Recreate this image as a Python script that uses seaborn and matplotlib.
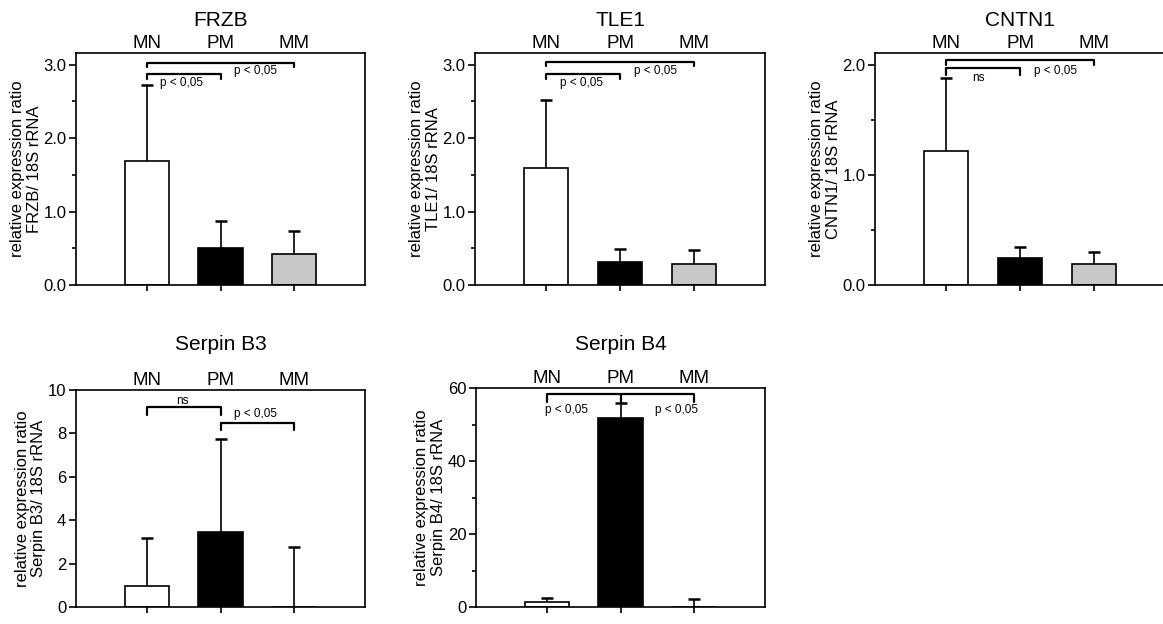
import numpy as np
import pandas as pd
import matplotlib
matplotlib.use("Agg")
import matplotlib.pyplot as plt
import seaborn as sns
from matplotlib.ticker import MultipleLocator, FormatStrFormatter, NullLocator

# ----------------------------------------------------------
# data
# ----------------------------------------------------------
groups = ["MN", "PM", "MM"]
bar_colors = ["white", "black", "#c8c8c8"]

frzb_mean = [1.69, 0.50, 0.42]
frzb_sd = [1.04, 0.37, 0.31]

tle1_mean = [1.60, 0.31, 0.28]
tle1_sd = [0.92, 0.18, 0.19]

cntn1_mean = [1.22, 0.25, 0.19]
cntn1_sd = [0.66, 0.10, 0.11]

serpinb3_mean = [0.98, 3.47, 0.0]
serpinb3_sd = [2.19, 4.27, 2.75]

serpinb4_mean = [1.4, 51.7, 0.0]
serpinb4_sd = [1.0, 4.2, 2.1]

sns.set_style("ticks")
plt.rcParams["font.family"] = ["Liberation Sans", "DejaVu Sans"]
plt.rcParams["text.color"] = "black"
plt.rcParams["axes.labelcolor"] = "black"
plt.rcParams["xtick.color"] = "black"
plt.rcParams["ytick.color"] = "black"

W, H = 1163, 624
fig = plt.figure(figsize=(W / 100, H / 100), dpi=100)


def px_rect(left, right, top, bottom):
    return [left / W, 1 - bottom / H, (right - left) / W, (bottom - top) / H]


# bracket: (x_from, x_to, y_bar, y_leg, middle legs)
# label:   (x, y, text)
panels = [
    dict(title="FRZB", gene="FRZB", mean=frzb_mean, sd=frzb_sd,
         ymax=3.16, major=1.0, minor=0.5, fmt="%.1f",
         rect=px_rect(76, 365, 53, 285), title_off=33,
         brackets=[(0, 2, 3.03, 2.97, []), (0, 1, 2.88, 2.80, [])],
         labels=[(0.47, 2.75, "p < 0,05"), (1.48, 2.92, "p < 0,05")]),
    dict(title="TLE1", gene="TLE1", mean=tle1_mean, sd=tle1_sd,
         ymax=3.16, major=1.0, minor=0.5, fmt="%.1f",
         rect=px_rect(475, 765, 53, 285), title_off=33,
         brackets=[(0, 2, 3.04, 2.98, []), (0, 1, 2.88, 2.80, [])],
         labels=[(0.48, 2.75, "p < 0,05"), (1.48, 2.92, "p < 0,05")]),
    dict(title="CNTN1", gene="CNTN1", mean=cntn1_mean, sd=cntn1_sd,
         ymax=2.11, major=1.0, minor=0.5, fmt="%.1f",
         rect=px_rect(875, 1165, 53, 285), title_off=33,
         brackets=[(0, 2, 2.045, 2.0, []), (0, 1, 1.97, 1.91, [])],
         labels=[(0.44, 1.88, "ns"), (1.48, 1.95, "p < 0,05")]),
    dict(title="Serpin B3", gene="Serpin B3", mean=serpinb3_mean, sd=serpinb3_sd,
         ymax=10, major=2, minor=None, fmt="%d",
         rect=px_rect(76, 365, 390, 607), title_off=46,
         brackets=[(0, 1, 9.2, 8.85, []), (1, 2, 8.46, 8.15, [])],
         labels=[(0.48, 9.5, "ns"), (1.48, 8.88, "p < 0,05")]),
    dict(title="Serpin B4", gene="Serpin B4", mean=serpinb4_mean, sd=serpinb4_sd,
         ymax=60, major=20, minor=10, fmt="%d",
         rect=px_rect(476, 765, 388, 607), title_off=44,
         brackets=[(0, 2, 58.4, 56.2, [1])],
         labels=[(0.27, 54.0, "p < 0,05"), (1.77, 54.0, "p < 0,05")]),
]

for p in panels:
    ax = fig.add_axes(p["rect"])
    df = pd.DataFrame({"group": groups, "value": p["mean"]})
    sns.barplot(data=df, x="group", y="value", hue="group", order=groups,
                palette=bar_colors, width=0.6, edgecolor="black",
                linewidth=1.2, errorbar=None, legend=False, ax=ax)
    x = np.arange(len(groups))
    eb = ax.errorbar(x, p["mean"], yerr=[np.zeros(len(groups)), p["sd"]],
                     fmt="none", ecolor="black", elinewidth=1.2, capsize=4,
                     capthick=1.8, zorder=3)
    eb[1][0].set_visible(False)  # one-sided (upper) error bars only

    # significance brackets
    for x1, x2, yb, yl, mids in p["brackets"]:
        ax.plot([x1, x1, x2, x2], [yl, yb, yb, yl], color="black", lw=1.6,
                clip_on=False, zorder=4)
        for xm in mids:
            ax.plot([xm, xm], [yb, yl], color="black", lw=1.6, zorder=4)
    for lx, ly, txt in p["labels"]:
        ax.text(lx, ly, txt, ha="center", va="center", fontsize=8.5)

    ax.set_xlim(-0.97, 2.97)
    ax.set_ylim(0, p["ymax"])
    ax.set_xticks(x)
    ax.set_xticklabels(groups)
    ax.set_xlabel("")
    ax.tick_params(axis="x", bottom=True, top=False, labelbottom=False,
                   labeltop=True, length=4, width=1.2, pad=-3.5, labelsize=13.5)
    ax.yaxis.set_major_locator(MultipleLocator(p["major"]))
    if p["minor"]:
        ax.yaxis.set_minor_locator(MultipleLocator(p["minor"]))
    else:
        ax.yaxis.set_minor_locator(NullLocator())
    ax.yaxis.set_major_formatter(FormatStrFormatter(p["fmt"]))
    ax.tick_params(axis="y", which="major", length=5, width=1.2, labelsize=12, pad=2)
    ax.tick_params(axis="y", which="minor", length=3, width=1.2)
    ax.set_ylabel("relative expression ratio\n" + p["gene"] + "/ 18S rRNA",
                  fontsize=12, labelpad=1, linespacing=1.15)
    for s in ax.spines.values():
        s.set_visible(True)
        s.set_linewidth(1.2)
        s.set_color("black")

    h_px = p["rect"][3] * H
    ax.text(0.5, 1 + p["title_off"] / h_px, p["title"], transform=ax.transAxes,
            ha="center", va="center", fontsize=15)

fig.savefig("out.png", dpi=100)
